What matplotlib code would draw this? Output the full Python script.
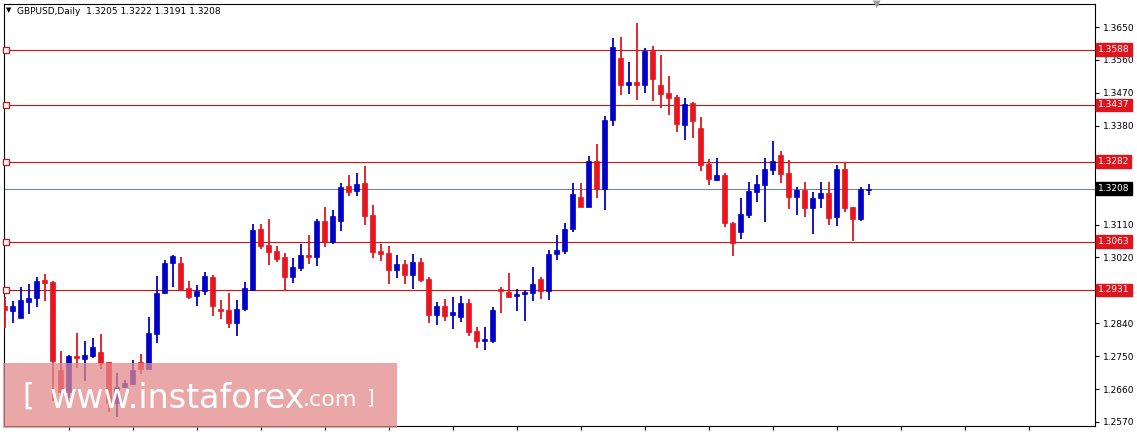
import matplotlib
matplotlib.use("Agg")
import matplotlib.pyplot as plt
from matplotlib.patches import Rectangle
import numpy as np

opens = [1.2887,1.2873,1.2854,1.2898,1.2909,1.2958,1.2953,1.2712,1.2652,1.2750,1.2742,1.2750,1.2761,1.2734,1.2622,1.2666,1.2674,1.2734,1.2715,1.2810,
1.2923,1.3005,1.3005,1.2936,1.2914,1.2928,1.2966,1.2879,1.2876,1.2841,1.2879,1.2931,1.3098,1.3054,1.3038,1.3021,1.2966,1.2991,1.3027,1.3021,
1.3120,1.3062,1.3120,1.3215,1.3202,1.3223,1.3136,1.3038,1.3032,1.2986,1.3002,1.2972,1.3007,1.2961,1.2862,1.2887,1.2862,1.2857,1.2895,1.2819,
1.2791,1.2791,1.2934,1.2925,1.2914,1.2920,1.2923,1.2961,1.2928,1.3029,1.3038,1.3098,1.3185,1.3158,1.3284,1.3207,1.3396,1.3565,1.3491,1.3500,
1.3491,1.3584,1.3491,1.3470,1.3459,1.3382,1.3442,1.3374,1.3275,1.3232,1.3245,1.3114,1.3089,1.3136,1.3199,1.3218,1.3259,1.3300,1.3251,1.3185,
1.3204,1.3155,1.3182,1.3196,1.3130,1.3262,1.3158,1.3125,1.3205]
highs = [1.2912,1.2901,1.2939,1.2947,1.2966,1.2975,1.2955,1.2764,1.2753,1.2813,1.2791,1.2800,1.2810,1.2734,1.2704,1.2685,1.2739,1.2756,1.2857,1.2969,
1.3013,1.3027,1.3021,1.2955,1.2944,1.2980,1.2972,1.2903,1.2923,1.2903,1.2953,1.3111,1.3111,1.3125,1.3051,1.3032,1.3018,1.3057,1.3081,1.3125,
1.3158,1.3150,1.3223,1.3245,1.3251,1.3270,1.3163,1.3057,1.3051,1.3027,1.3013,1.3029,1.3018,1.2966,1.2898,1.2906,1.2912,1.2914,1.2906,1.2830,
1.2830,1.2884,1.2939,1.2977,1.2934,1.2931,1.2994,1.2966,1.3040,1.3081,1.3114,1.3223,1.3223,1.3297,1.3330,1.3407,1.3620,1.3623,1.3554,1.3661,
1.3593,1.3598,1.3573,1.3516,1.3464,1.3456,1.3445,1.3404,1.3289,1.3292,1.3251,1.3117,1.3182,1.3226,1.3245,1.3292,1.3338,1.3311,1.3286,1.3213,
1.3226,1.3199,1.3226,1.3226,1.3273,1.3278,1.3158,1.3213,1.3222]
lows = [1.2827,1.2841,1.2854,1.2865,1.2884,1.2901,1.2627,1.2640,1.2636,1.2718,1.2682,1.2745,1.2715,1.2597,1.2584,1.2664,1.2671,1.2701,1.2712,1.2786,
1.2920,1.2939,1.2931,1.2906,1.2887,1.2917,1.2860,1.2851,1.2827,1.2805,1.2873,1.2928,1.3043,1.2999,1.3007,1.2928,1.2950,1.2983,1.3002,1.2996,
1.3048,1.3057,1.3092,1.3188,1.3188,1.3109,1.3018,1.3010,1.2947,1.2964,1.2947,1.2934,1.2953,1.2841,1.2835,1.2846,1.2824,1.2843,1.2805,1.2772,
1.2767,1.2786,1.2868,1.2909,1.2873,1.2846,1.2901,1.2906,1.2903,1.3013,1.3029,1.3089,1.3158,1.3158,1.3182,1.3150,1.3379,1.3464,1.3467,1.3450,
1.3470,1.3448,1.3428,1.3409,1.3363,1.3341,1.3346,1.3256,1.3218,1.3229,1.3103,1.3024,1.3070,1.3128,1.3171,1.3117,1.3245,1.3223,1.3152,1.3136,
1.3130,1.3084,1.3155,1.3109,1.3106,1.3144,1.3065,1.3120,1.3191]
closes = [1.2876,1.2887,1.2903,1.2909,1.2955,1.2950,1.2737,1.2652,1.2750,1.2745,1.2753,1.2775,1.2731,1.2622,1.2666,1.2677,1.2712,1.2715,1.2813,1.2923,
1.3005,1.3024,1.2934,1.2912,1.2928,1.2969,1.2887,1.2873,1.2841,1.2879,1.2936,1.3095,1.3051,1.3035,1.3016,1.2966,1.2994,1.3027,1.3021,1.3120,
1.3062,1.3133,1.3213,1.3199,1.3221,1.3133,1.3035,1.3029,1.2986,1.3002,1.2972,1.3007,1.2958,1.2862,1.2887,1.2860,1.2871,1.2895,1.2816,1.2791,
1.2797,1.2876,1.2928,1.2912,1.2920,1.2925,1.2947,1.2928,1.3029,1.3040,1.3098,1.3193,1.3158,1.3284,1.3207,1.3396,1.3595,1.3491,1.3500,1.3491,
1.3584,1.3508,1.3467,1.3456,1.3385,1.3439,1.3393,1.3273,1.3234,1.3245,1.3114,1.3059,1.3139,1.3202,1.3221,1.3262,1.3284,1.3248,1.3185,1.3204,
1.3155,1.3182,1.3196,1.3128,1.3262,1.3155,1.3125,1.3207,1.3208]

levels = [1.3588, 1.3437, 1.3282, 1.3063, 1.2931]
current = 1.3208
yticks = [1.3650, 1.3560, 1.3470, 1.3380, 1.3110, 1.3020, 1.2840, 1.2750, 1.2660, 1.2570]
title = "GBPUSD,Daily  1.3205 1.3222 1.3191 1.3208"

W, H = 1137, 432
fig = plt.figure(figsize=(W/100, H/100), dpi=100)
ax = fig.add_axes([4/W, 6/H, 1091/W, 422/H])
ax.set_xlim(-0.1, 136.3)
ax.set_ylim(1.2559, 1.3713)

bull, bear = "#0000c8", "#e8141e"
for i, (o, h, l, c) in enumerate(zip(opens, highs, lows, closes)):
    col = bull if c >= o else bear
    ax.vlines(i, l, h, color=col, lw=1.3, zorder=3)
    ax.add_patch(Rectangle((i - 0.33, min(o, c)), 0.66, max(abs(c - o), 0.00008),
                           facecolor=col, edgecolor=col, lw=0.5, zorder=4))

for lv in levels:
    ax.axhline(lv, color="#c81414", lw=0.8, zorder=2)
    ax.plot([0.15], [lv], marker="s", ms=4, mfc="white", mec="#c81414", mew=0.9,
            clip_on=False, zorder=5)
    ax.text(1.003, lv, f"{lv:.4f}", transform=ax.get_yaxis_transform(), va="center", ha="left",
            fontsize=6.5, color="white",
            bbox=dict(boxstyle="square,pad=0.2", fc="#e0141e", ec="#e0141e"))
ax.axhline(current, color="#7a8a94", lw=0.8, zorder=2)
ax.text(1.003, current, f"{current:.4f}", transform=ax.get_yaxis_transform(), va="center",
        ha="left", fontsize=6.5, color="white",
        bbox=dict(boxstyle="square,pad=0.2", fc="black", ec="black"))

ax.yaxis.tick_right()
ax.set_yticks(yticks)
ax.set_yticklabels([f"{t:.4f}" for t in yticks], fontsize=6.5)
ax.tick_params(axis="y", length=3, pad=3)
ax.set_xticks(np.arange(8, 136, 8))
ax.set_xticklabels([])
ax.tick_params(axis="x", length=3, direction="out")
for s in ax.spines.values():
    s.set_color("black"); s.set_linewidth(0.8)

ax.text(0.012, 0.992, title, transform=ax.transAxes, fontsize=6.5, va="top", ha="left")
ax.text(0.002, 0.992, "▼", transform=ax.transAxes, fontsize=5, va="top", ha="left")
ax.text(0.8, 1.0, "▼", transform=ax.transAxes, fontsize=7, color="#a0a0a0", va="center", ha="center")

# watermark
fig.patches.append(Rectangle((3/W, 4/H), 394/W, 65/H, transform=fig.transFigure,
                             facecolor="#e48a8a", alpha=0.75, edgecolor="none", zorder=10))
fig.text(22/W, 36/H, "[", fontsize=22, color="white", va="center", ha="left", zorder=11)
fig.text(50/W, 34/H, "www.instaforex", fontsize=24, color="white", va="center", ha="left", zorder=11)
fig.text(303/W, 32/H, ".com", fontsize=16, color="white", va="center", ha="left", zorder=11)
fig.text(366/W, 34/H, "]", fontsize=14, color="white", va="center", ha="left", zorder=11)

fig.savefig("out.png", dpi=100)
